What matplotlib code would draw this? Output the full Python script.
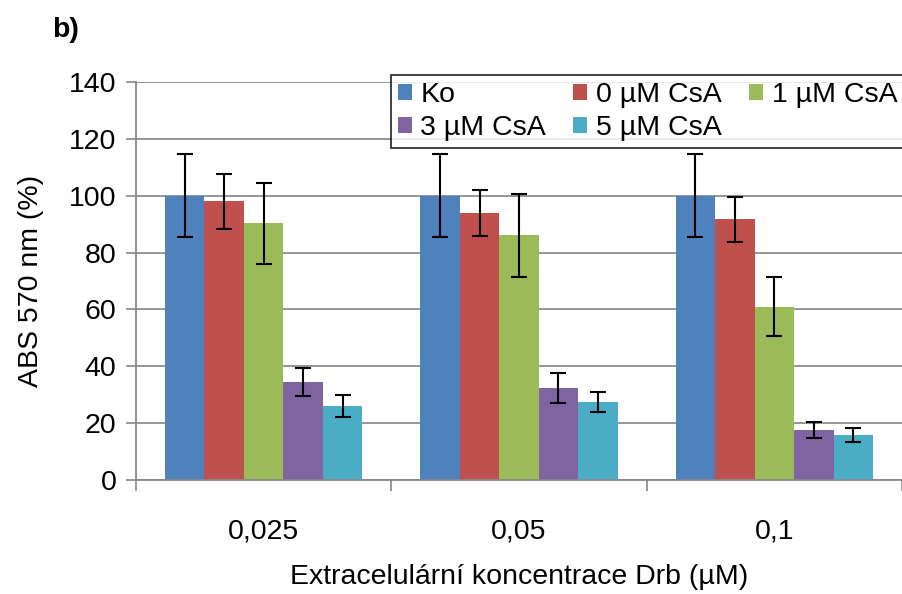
import numpy as np
import matplotlib
matplotlib.use("Agg")
import matplotlib.pyplot as plt

plt.rcParams["font.family"] = ["Liberation Sans", "DejaVu Sans"]

categories = ["0,025", "0,05", "0,1"]
series = ["Ko", "0 µM CsA", "1 µM CsA", "3 µM CsA", "5 µM CsA"]
colors = ["#4F81BD", "#C0504D", "#9BBB59", "#8064A2", "#4BACC6"]

ko = [100.0, 100.0, 100.0]
csa0 = [98.0, 93.8, 91.7]
csa1 = [90.3, 86.1, 61.0]
csa3 = [34.5, 32.4, 17.7]
csa5 = [26.1, 27.5, 15.7]

ko_err = [14.5, 14.5, 14.5]
csa0_err = [9.8, 8.1, 8.0]
csa1_err = [14.3, 14.6, 10.5]
csa3_err = [5.0, 5.2, 2.8]
csa5_err = [3.9, 3.5, 2.5]

values = [ko, csa0, csa1, csa3, csa5]
errors = [ko_err, csa0_err, csa1_err, csa3_err, csa5_err]

FS = 20.5

fig = plt.figure(figsize=(9.02, 5.94), dpi=100)
ax = fig.add_axes([136 / 902, 1 - 480 / 594, 1 - 136 / 902, 398 / 594])

x = np.arange(len(categories))
width = 0.1546
handles = []
for i, (name, vals, errs, c) in enumerate(zip(series, values, errors, colors)):
    pos = x + (i - 2) * width
    h = ax.bar(pos, vals, width, color=c, label=name, zorder=2)
    ax.errorbar(pos, vals, yerr=errs, fmt="none", ecolor="black",
                elinewidth=1.5, capsize=5.5, capthick=1.5, zorder=3)
    handles.append(h)

ax.set_xlim(-0.5, 2.5)
ax.set_ylim(0, 140)
ax.set_yticks(range(0, 141, 20))
ax.set_xticks(x)
ax.set_xticklabels(categories)
ax.set_xticks([-0.5, 0.5, 1.5, 2.5], minor=True)
ax.tick_params(axis="x", which="major", length=0, pad=28, labelsize=FS)
ax.tick_params(axis="x", which="minor", length=8, width=1.2, color="#888888")
ax.tick_params(axis="y", length=7, width=1.2, color="#888888", labelsize=FS, pad=7)

ax.grid(axis="y", color="#8c8c8c", linewidth=1.3, zorder=0)
ax.set_axisbelow(True)
for side in ["top", "right"]:
    ax.spines[side].set_visible(False)
for side in ["left", "bottom"]:
    ax.spines[side].set_color("#888888")
    ax.spines[side].set_linewidth(1.3)

ax.set_ylabel("ABS 570 nm (%)", fontsize=FS, labelpad=18)
ax.set_xlabel("Extracelulární koncentrace Drb (µM)", fontsize=FS, labelpad=14)

# legend laid out row by row: reorder for matplotlib's column-major filling
order = [0, 3, 1, 4, 2]
leg = ax.legend([handles[k] for k in order], [series[k] for k in order],
                ncol=3, loc="upper right", bbox_to_anchor=(1.003, 1.018),
                frameon=True, fancybox=False, fontsize=FS,
                handlelength=0.5, handleheight=0.5, handletextpad=0.3,
                columnspacing=0.95, labelspacing=0.25, borderpad=0.25,
                borderaxespad=0.0)
leg.get_frame().set_edgecolor("black")
leg.get_frame().set_linewidth(1.3)

fig.text(52 / 902, 1 - 30 / 594, "b)", fontsize=FS, fontweight="bold",
         va="center", ha="left")

fig.savefig("out.png", dpi=100)
